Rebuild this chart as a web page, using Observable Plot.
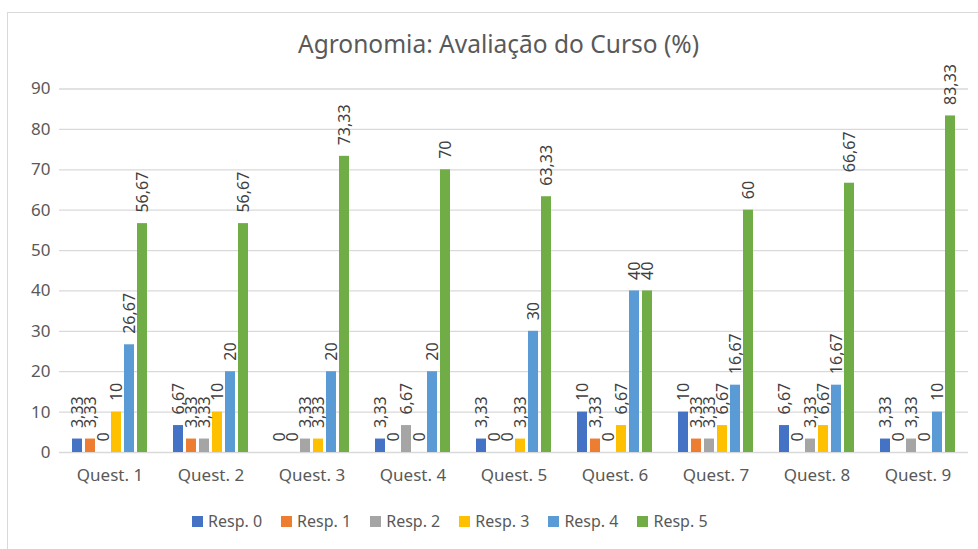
<!DOCTYPE html>
<html>
<head>
<meta charset="utf-8">
<script src="https://cdn.jsdelivr.net/npm/d3@7"></script>
<script src="https://cdn.jsdelivr.net/npm/@observablehq/plot@0.6"></script>
<style>
  html, body { margin: 0; padding: 0; background: #fff; }
  body { width: 978px; height: 549px; overflow: hidden; position: relative; font-family: "Noto Sans", sans-serif; }
  #frame { position: absolute; left: 7px; top: 12px; width: 1000px; height: 600px; border: 1.5px solid #d9d9d9; box-sizing: border-box; }
  #title { position: absolute; left: 0; top: 27px; width: 997px; text-align: center; font-size: 24.5px; color: #595959; }
  #chart { position: absolute; left: 0; top: 60px; }
  #legend { position: absolute; left: 192px; top: 510px; display: flex; align-items: center; font-size: 16px; color: #595959; }
  #legend .item { display: flex; align-items: center; margin-right: 19px; }
  #legend .sw { width: 11px; height: 11px; margin-right: 5px; }
</style>
</head>
<body>
<div id="frame"></div>
<div id="title">Agronomia: Avaliação do Curso (%)</div>
<div id="chart"></div>
<div id="legend"></div>
<script>
const questions = ["Quest. 1", "Quest. 2", "Quest. 3", "Quest. 4", "Quest. 5", "Quest. 6", "Quest. 7", "Quest. 8", "Quest. 9"];
const responses = ["Resp. 0", "Resp. 1", "Resp. 2", "Resp. 3", "Resp. 4", "Resp. 5"];
const colors = ["#4472C4", "#ED7D31", "#A5A5A5", "#FFC000", "#5B9BD5", "#70AD47"];
const resp0 = [3.33, 6.67, 0, 3.33, 3.33, 10, 10, 6.67, 3.33];
const resp1 = [3.33, 3.33, 0, 0, 0, 3.33, 3.33, 0, 0];
const resp2 = [0, 3.33, 3.33, 6.67, 0, 0, 3.33, 3.33, 3.33];
const resp3 = [10, 10, 3.33, 0, 3.33, 6.67, 6.67, 6.67, 0];
const resp4 = [26.67, 20, 20, 20, 30, 40, 16.67, 16.67, 10];
const resp5 = [56.67, 56.67, 73.33, 70, 63.33, 40, 60, 66.67, 83.33];
const yTicks = [0, 10, 20, 30, 40, 50, 60, 70, 80, 90];

const series = [resp0, resp1, resp2, resp3, resp4, resp5];
const data = [];
questions.forEach((q, i) => {
  responses.forEach((r, j) => {
    data.push({q, r, v: series[j][i]});
  });
});
const fmt = v => String(v).replace(".", ",");

const plot = Plot.plot({
  width: 978,
  height: 442,
  marginTop: 28.5,
  marginBottom: 50,
  marginLeft: 58,
  marginRight: 10,
  style: { fontFamily: "Noto Sans, sans-serif", fontSize: "17px", color: "#595959", background: "transparent" },
  fx: { domain: questions, padding: 0, axis: "bottom", label: null, tickSize: 0, tickPadding: 16 },
  x: { domain: responses, paddingInner: 0.21, paddingOuter: 0.9, axis: null },
  y: { domain: [0, 90], ticks: yTicks, tickSize: 0, tickPadding: 9, label: null },
  color: { domain: responses, range: colors },
  marks: [
    Plot.ruleY(yTicks, { stroke: "#d9d9d9", strokeWidth: 1.3 }),
    Plot.barY(data, { fx: "q", x: "r", y: "v", fill: "r" }),
    Plot.text(data, { fx: "q", x: "r", y: "v", text: d => fmt(d.v), rotate: -90, textAnchor: "start", dy: -11, fill: "#404040", fontSize: 16 })
  ]
});
document.getElementById("chart").appendChild(plot);

const legend = document.getElementById("legend");
responses.forEach((r, j) => {
  const item = document.createElement("div");
  item.className = "item";
  const sw = document.createElement("span");
  sw.className = "sw";
  sw.style.background = colors[j];
  const t = document.createElement("span");
  t.textContent = r;
  item.appendChild(sw);
  item.appendChild(t);
  legend.appendChild(item);
});
</script>
</body>
</html>
